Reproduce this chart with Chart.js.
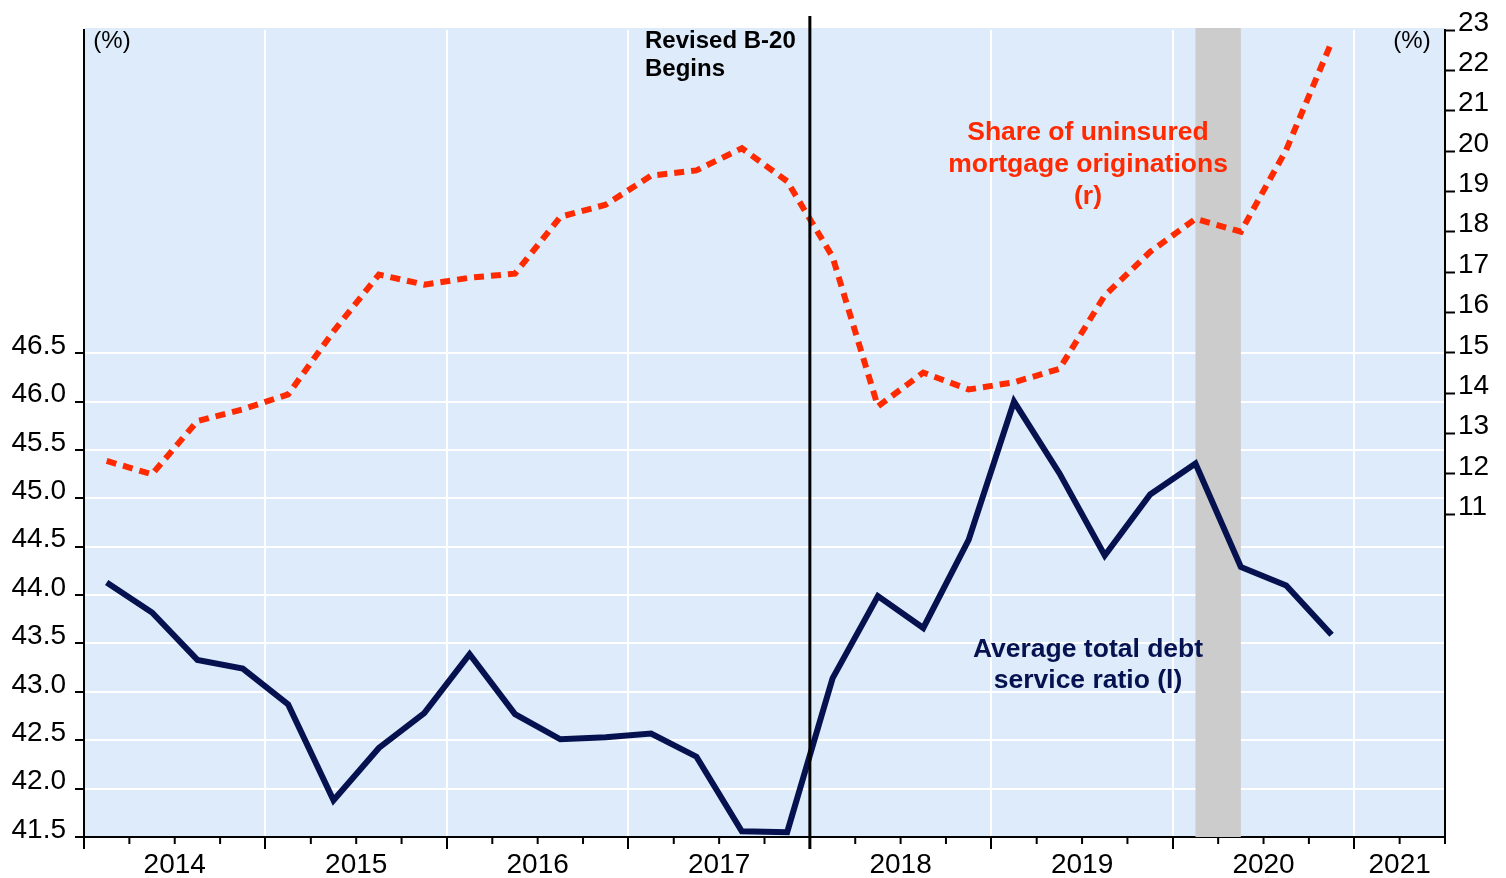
<!DOCTYPE html>
<html>
<head>
<meta charset="utf-8">
<script src="https://cdn.jsdelivr.net/npm/chart.js@4.4.1/dist/chart.umd.min.js"></script>
<style>
  html, body { margin: 0; padding: 0; background: #fff; }
  #wrap { width: 1506px; height: 878px; }
</style>
</head>
<body>
<div id="wrap"><canvas id="chart"></canvas></div>
<script>
// quarterly observations
const quarters = [
  "2014Q1", "2014Q2", "2014Q3", "2014Q4", "2015Q1", "2015Q2", "2015Q3", "2015Q4",
  "2016Q1", "2016Q2", "2016Q3", "2016Q4", "2017Q1", "2017Q2", "2017Q3", "2017Q4",
  "2018Q1", "2018Q2", "2018Q3", "2018Q4", "2019Q1", "2019Q2", "2019Q3", "2019Q4",
  "2020Q1", "2020Q2", "2020Q3", "2020Q4"
];
// average total debt service ratio (left axis, %)
const debtService = [
  44.13, 43.82, 43.33, 43.24, 42.87, 41.88, 42.42, 42.78,
  43.39, 42.77, 42.51, 42.53, 42.57, 42.33, 41.56, 41.55,
  43.14, 43.99, 43.66, 44.57, 46.00, 45.26, 44.41, 45.04,
  45.36, 44.29, 44.10, 43.59
];
// share of uninsured mortgage originations (right axis, %)
const uninsuredShare = [
  12.32, 11.99, 13.31, 13.60, 13.97, 15.53, 16.94, 16.69,
  16.86, 16.96, 18.37, 18.67, 19.39, 19.52, 20.07, 19.25,
  17.38, 13.67, 14.51, 14.09, 14.27, 14.60, 16.42, 17.50,
  18.32, 18.00, 20.03, 22.70
];

// axis ticks
const leftTicks = [41.5, 42.0, 42.5, 43.0, 43.5, 44.0, 44.5, 45.0, 45.5, 46.0, 46.5];
const rightTicks = [11, 12, 13, 14, 15, 16, 17, 18, 19, 20, 21, 22, 23];
const years = ["2014", "2015", "2016", "2017", "2018", "2019", "2020", "2021"];

// events (in years)
const b20Start = 2018.0;
const recession = [2020.125, 2020.375];

const BG = "#deebfb";
const NAVY = "#06124f";
const RED = "#ff2a00";
const FONT = "'Liberation Sans', Arial, sans-serif";

// quarter label -> middle of the quarter on a year scale
function quarterX(q) {
  const y = parseInt(q.slice(0, 4));
  const n = parseInt(q.slice(5));
  return y + (n - 1) * 0.25 + 0.125;
}

const dsrPoints = quarters.map((q, i) => ({ x: quarterX(q), y: debtService[i] }));
const uninsPoints = quarters.map((q, i) => ({ x: quarterX(q), y: uninsuredShare[i] }));

const xMin = 2014, xMax = 2021.5;
const xTickVals = [];
for (let v = xMin; v <= xMax + 1e-9; v += 0.25) xTickVals.push(v);

// year labels sit in the middle of the visible part of each year
const yearCenters = years.map(y => {
  const a = Math.max(+y, xMin), b = Math.min(+y + 1, xMax);
  return (a + b) / 2;
});

const decor = {
  id: "decor",
  beforeDraw(chart) {
    const { ctx, chartArea: a } = chart;
    ctx.save();
    ctx.fillStyle = BG;
    ctx.fillRect(a.left, a.top - 2, a.right - a.left, a.bottom - a.top + 2);
    ctx.restore();
  },
  beforeDatasetsDraw(chart) {
    const { ctx, chartArea: a, scales } = chart;
    const x0 = scales.x.getPixelForValue(recession[0]);
    const x1 = scales.x.getPixelForValue(recession[1]);
    ctx.save();
    ctx.fillStyle = "#cccccc";
    ctx.fillRect(x0, a.top - 2, x1 - x0, a.bottom - a.top + 2);
    ctx.restore();
  },
  afterDatasetsDraw(chart) {
    const { ctx, chartArea: a, scales } = chart;
    const xb = scales.x.getPixelForValue(b20Start);
    ctx.save();
    ctx.strokeStyle = "#000";
    ctx.lineWidth = 3;
    ctx.beginPath();
    ctx.moveTo(xb, 16);
    ctx.lineTo(xb, a.bottom + 12);
    ctx.stroke();

    // short quarter ticks
    ctx.lineWidth = 2;
    xTickVals.forEach(v => {
      if (Number.isInteger(v)) return;
      const px = scales.x.getPixelForValue(v);
      ctx.beginPath();
      ctx.moveTo(px, a.bottom);
      ctx.lineTo(px, a.bottom + 7);
      ctx.stroke();
    });

    ctx.textBaseline = "middle";
    ctx.fillStyle = "#000";
    ctx.font = "24px " + FONT;
    ctx.textAlign = "center";
    ctx.fillText("(%)", 112, 41);
    ctx.fillText("(%)", 1412, 41);

    ctx.font = "bold 24px " + FONT;
    ctx.textAlign = "left";
    ctx.fillText("Revised B-20", 645, 41);
    ctx.fillText("Begins", 645, 69);

    ctx.font = "bold 26.5px " + FONT;
    ctx.textAlign = "center";
    ctx.fillStyle = RED;
    ctx.fillText("Share of uninsured", 1088, 133);
    ctx.fillText("mortgage originations", 1088, 165);
    ctx.fillText("(r)", 1088, 197);

    ctx.fillStyle = NAVY;
    ctx.fillText("Average total debt", 1088, 650);
    ctx.fillText("service ratio (l)", 1088, 681);
    ctx.restore();
  }
};

new Chart(document.getElementById("chart"), {
  type: "line",
  data: {
    datasets: [
      {
        label: "Average total debt service ratio (l)",
        data: dsrPoints,
        yAxisID: "yL",
        borderColor: NAVY,
        borderWidth: 6,
        pointRadius: 0,
        tension: 0,
        fill: false
      },
      {
        label: "Share of uninsured mortgage originations (r)",
        data: uninsPoints,
        yAxisID: "yR",
        borderColor: RED,
        borderWidth: 6,
        borderDash: [10, 7],
        pointRadius: 0,
        tension: 0,
        fill: false
      }
    ]
  },
  options: {
    responsive: true,
    maintainAspectRatio: false,
    animation: false,
    layout: { padding: { top: 30, left: 0, right: 0, bottom: 0 } },
    plugins: {
      legend: { display: false },
      tooltip: { enabled: false }
    },
    scales: {
      x: {
        type: "linear",
        min: xMin,
        max: xMax,
        afterBuildTicks: s => {
          const vals = xTickVals.concat(yearCenters.filter(c => !xTickVals.includes(c)));
          vals.sort((p, q) => p - q);
          s.ticks = vals.map(v => ({ value: v }));
        },
        afterFit: s => { s.height = 41; },
        border: { color: "#000", width: 2 },
        grid: {
          color: c => (Number.isInteger(c.tick.value) && c.tick.value > xMin) ? "#ffffff" : "rgba(0,0,0,0)",
          lineWidth: 2,
          tickColor: c => Number.isInteger(c.tick.value) ? "#000" : "rgba(0,0,0,0)",
          tickLength: 12,
          tickWidth: 2
        },
        ticks: {
          autoSkip: false,
          maxRotation: 0,
          padding: -1,
          color: "#000",
          font: { family: FONT, size: 28 },
          callback: v => {
            const i = yearCenters.findIndex(c => Math.abs(c - v) < 1e-9);
            return i >= 0 ? years[i] : "";
          }
        }
      },
      yL: {
        position: "left",
        min: 41.5,
        max: 49.84,
        afterBuildTicks: s => { s.ticks = leftTicks.map(v => ({ value: v })); },
        afterFit: s => { s.width = 84; },
        border: { color: "#000", width: 2 },
        grid: {
          color: c => c.tick.value > 41.5 ? "#ffffff" : "rgba(0,0,0,0)",
          lineWidth: 2,
          tickColor: "#000",
          tickLength: 9,
          tickWidth: 2
        },
        ticks: {
          padding: 9,
          labelOffset: -7,
          color: "#000",
          font: { family: FONT, size: 28 },
          callback: v => v.toFixed(1)
        }
      },
      yR: {
        position: "right",
        min: 3,
        max: 23,
        afterBuildTicks: s => { s.ticks = rightTicks.map(v => ({ value: v })); },
        afterFit: s => { s.width = 61; },
        border: { color: "#000", width: 2 },
        grid: {
          drawOnChartArea: false,
          tickColor: "#000",
          tickLength: 10,
          tickWidth: 2
        },
        ticks: {
          padding: 3,
          labelOffset: -7,
          color: "#000",
          font: { family: FONT, size: 28 },
          callback: v => String(v)
        }
      }
    }
  },
  plugins: [decor]
});
</script>
</body>
</html>
